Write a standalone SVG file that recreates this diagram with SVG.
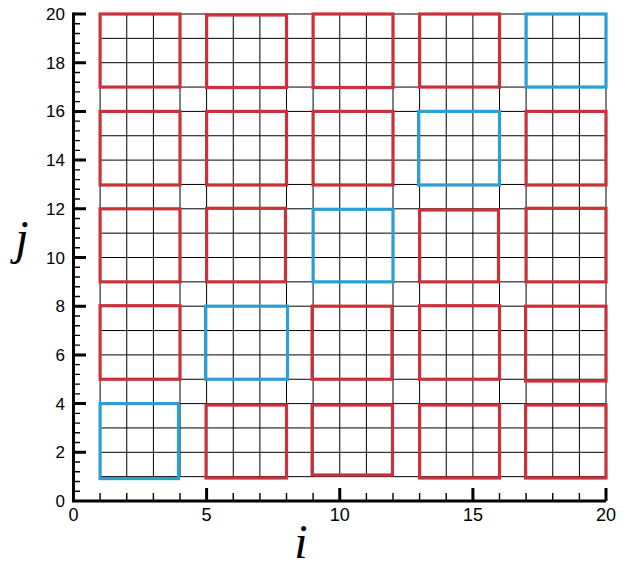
<svg xmlns="http://www.w3.org/2000/svg" width="626" height="567" viewBox="0 0 626 567">
<style>
.grid{stroke:#000;stroke-width:1;fill:none}
.axis{stroke:#000;stroke-width:3;fill:none}
.tmin{stroke:#000;stroke-width:1.4;fill:none}
.tmaj{stroke:#000;stroke-width:3;fill:none}
.red{stroke:#c9323b;stroke-width:3.2;fill:none}
.blue{stroke:#2b9fd2;stroke-width:3.2;fill:none}
.tl{font-family:"Liberation Sans",Arial,sans-serif;font-size:17px;fill:#000}
.al{font-family:"Liberation Serif","Times New Roman",serif;font-style:italic;font-size:48px;fill:#000}
</style>
<rect width="626" height="567" fill="#fff"/>
<g id="grid">
<path class="grid" d="M100.1,14V476.65M126.75,14V476.65M153.4,14V476.65M180,14V476.65M206.6,14V476.65M233.25,14V476.65M259.9,14V476.65M286.5,14V476.65M313.1,14V476.65M339.75,14V476.65M366.4,14V476.65M393,14V476.65M419.6,14V476.65M446.25,14V476.65M472.9,14V476.65M499.5,14V476.65M526.1,14V476.65M552.75,14V476.65M579.4,14V476.65M606,14V476.65"/>
<path class="grid" d="M100.1,476.65H606M100.1,452.3H606M100.1,427.95H606M100.1,403.6H606M100.1,379.25H606M100.1,354.9H606M100.1,330.55H606M100.1,306.2H606M100.1,281.85H606M100.1,257.5H606M100.1,233.15H606M100.1,208.8H606M100.1,184.45H606M100.1,160.1H606M100.1,135.75H606M100.1,111.4H606M100.1,87.05H606M100.1,62.7H606M100.1,38.35H606M100.1,14H606"/>
</g>
<g id="boxes">
<g id="b-1-1"><rect class="red" x="100.1" y="14" width="79.9" height="73.05"/></g>
<g id="b-1-2"><rect class="red" x="206.6" y="15" width="79.9" height="72.5"/></g>
<g id="b-1-3"><rect class="red" x="313.1" y="14" width="79.9" height="73.5"/></g>
<g id="b-1-4"><rect class="red" x="419.6" y="14" width="79.9" height="73.05"/></g>
<g id="b-1-5"><rect class="blue" x="526.1" y="14" width="79.9" height="73.05"/></g>
<g id="b-2-1"><rect class="red" x="100.1" y="111.4" width="79.9" height="73.6"/></g>
<g id="b-2-2"><rect class="red" x="206.6" y="111.4" width="79.9" height="73.6"/></g>
<g id="b-2-3"><rect class="red" x="313.1" y="111.4" width="79.9" height="73.6"/></g>
<g id="b-2-4"><rect class="blue" x="418.6" y="111.4" width="80.9" height="73.6"/></g>
<g id="b-2-5"><rect class="red" x="526.1" y="111.4" width="79.9" height="73.6"/></g>
<g id="b-3-1"><rect class="red" x="100.1" y="208.8" width="79.9" height="73.05"/></g>
<g id="b-3-2"><rect class="red" x="206.6" y="208.3" width="78.9" height="73.55"/></g>
<g id="b-3-3"><rect class="blue" x="313.1" y="209.3" width="79.9" height="72.55"/></g>
<g id="b-3-4"><rect class="red" x="419.6" y="210" width="78.9" height="71.85"/></g>
<g id="b-3-5"><rect class="red" x="526.1" y="208.3" width="79.9" height="73.55"/></g>
<g id="b-4-1"><rect class="red" x="100.1" y="305.7" width="79.9" height="73.55"/></g>
<g id="b-4-2"><rect class="blue" x="205.6" y="306.2" width="81.9" height="73.05"/></g>
<g id="b-4-3"><rect class="red" x="312.1" y="306.2" width="79.9" height="73.05"/></g>
<g id="b-4-4"><rect class="red" x="419.6" y="305.7" width="79.9" height="73.55"/></g>
<g id="b-4-5"><rect class="red" x="525.6" y="306.2" width="80.4" height="74.8"/></g>
<g id="b-5-1"><rect class="blue" x="100.1" y="403.6" width="78.4" height="75"/></g>
<g id="b-5-2"><rect class="red" x="206.1" y="405" width="80.4" height="73"/></g>
<g id="b-5-3"><rect class="red" x="312.1" y="405" width="80.4" height="70"/></g>
<g id="b-5-4"><rect class="red" x="419.6" y="405" width="79.9" height="73"/></g>
<g id="b-5-5"><rect class="red" x="525.6" y="405" width="80.4" height="73"/></g>
</g>
<g id="axes">
<path class="axis" d="M73.5,12.5V501H606"/>
<path class="tmaj" d="M606,501V488M206.6,501V488M339.75,501V488M472.9,501V488"/>
<path class="tmin" d="M100.1,501V493M126.75,501V493M153.4,501V493M180,501V493M233.25,501V493M259.9,501V493M286.5,501V493M313.1,501V493M366.4,501V493M393,501V493M419.6,501V493M446.25,501V493M499.5,501V493M526.1,501V493M552.75,501V493M579.4,501V493"/>
<path class="tmaj" d="M73.5,452.3H86M73.5,403.6H86M73.5,354.9H86M73.5,306.2H86M73.5,257.5H86M73.5,208.8H86M73.5,160.1H86M73.5,111.4H86M73.5,62.7H86M73.5,14H86"/>
<path class="tmin" d="M73.5,491.26H80M73.5,481.52H80M73.5,471.78H80M73.5,462.04H80M73.5,442.56H80M73.5,432.82H80M73.5,423.08H80M73.5,413.34H80M73.5,393.86H80M73.5,384.12H80M73.5,374.38H80M73.5,364.64H80M73.5,345.16H80M73.5,335.42H80M73.5,325.68H80M73.5,315.94H80M73.5,296.46H80M73.5,286.72H80M73.5,276.98H80M73.5,267.24H80M73.5,247.76H80M73.5,238.02H80M73.5,228.28H80M73.5,218.54H80M73.5,199.06H80M73.5,189.32H80M73.5,179.58H80M73.5,169.84H80M73.5,150.36H80M73.5,140.62H80M73.5,130.88H80M73.5,121.14H80M73.5,101.66H80M73.5,91.92H80M73.5,82.18H80M73.5,72.44H80M73.5,52.96H80M73.5,43.22H80M73.5,33.48H80M73.5,23.74H80"/>
</g>
<g id="ylabels" class="tl" text-anchor="end">
<text x="65" y="507">0</text>
<text x="65" y="458.3">2</text>
<text x="65" y="409.6">4</text>
<text x="65" y="360.9">6</text>
<text x="65" y="312.2">8</text>
<text x="65" y="263.5">10</text>
<text x="65" y="214.8">12</text>
<text x="65" y="166.1">14</text>
<text x="65" y="117.4">16</text>
<text x="65" y="68.7">18</text>
<text x="65" y="20">20</text>
</g>
<g id="xlabels" class="tl" text-anchor="middle" style="font-size:18px">
<text x="73.5" y="520.5">0</text>
<text x="206.6" y="520.5">5</text>
<text x="339.75" y="520.5">10</text>
<text x="472.9" y="520.5">15</text>
<text x="606" y="520.5">20</text>
</g>
<g id="axis-titles">
<text class="al" x="301" y="558" text-anchor="middle">i</text>
<text class="al" x="22" y="254" text-anchor="middle">j</text>
</g>
</svg>
